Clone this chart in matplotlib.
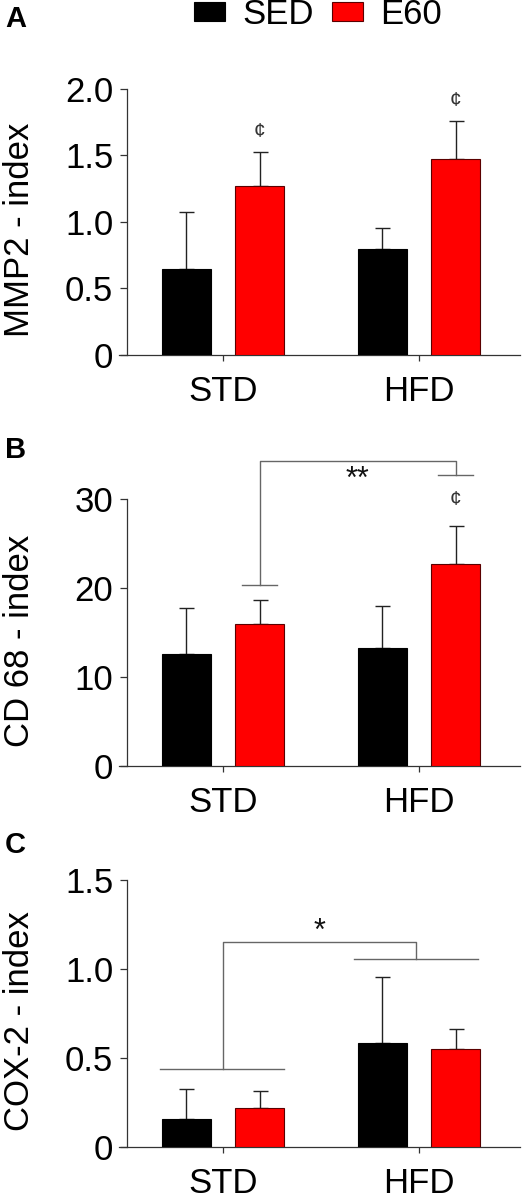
import matplotlib.pyplot as plt
from matplotlib.patches import Patch
import numpy as np

plt.rcParams['font.family'] = ['Liberation Sans', 'DejaVu Sans']

groups = ["STD", "HFD"]
series = ["SED", "E60"]
colors = {"SED": "#000000", "E60": "#ff0000"}

# panel A: MMP2
mmp2_mean = {"SED": [0.645, 0.80], "E60": [1.268, 1.47]}
mmp2_top = {"SED": [1.078, 0.958], "E60": [1.528, 1.758]}

# panel B: CD 68
cd68_mean = {"SED": [12.64, 13.24], "E60": [15.97, 22.69]}
cd68_top = {"SED": [17.7, 17.96], "E60": [18.67, 26.92]}

# panel C: COX-2
cox2_mean = {"SED": [0.159, 0.587], "E60": [0.219, 0.549]}
cox2_top = {"SED": [0.326, 0.953], "E60": [0.315, 0.664]}

fig = plt.figure(figsize=(5.32, 11.99), dpi=100)
W, H = 532, 1199

def make_ax(top_px, bottom_px):
    return fig.add_axes([119 / W, 1 - bottom_px / H, (520 - 119) / W, (bottom_px - top_px) / H])

x = np.arange(len(groups))
off = 0.187
bw = 0.25
line_c = "#333333"
br_c = "#666666"

def draw(ax, means, tops, ymax, yticks, yticklabels, ylabel):
    for i, s in enumerate(series):
        xs = x + (-off if i == 0 else off)
        edge = "#000000" if s == "SED" else "#5a0000"
        ax.bar(xs, means[s], width=bw, color=colors[s], edgecolor=edge, linewidth=0.8, zorder=3)
        err = np.array(tops[s]) - np.array(means[s])
        ax.errorbar(xs, means[s], yerr=[np.zeros(len(err)), err], fmt="none",
                    ecolor="#222222", elinewidth=1.0, capsize=5.4, capthick=1.0, zorder=2)
    for sp in ["top", "right"]:
        ax.spines[sp].set_visible(False)
    ax.spines["left"].set_position(("data", -0.49))
    for sp in ["left", "bottom"]:
        ax.spines[sp].set_color(line_c)
        ax.spines[sp].set_linewidth(0.9)
    ax.set_xlim(-0.531, 1.515)
    ax.set_ylim(0, ymax)
    ax.set_xticks(x)
    ax.set_xticklabels(groups)
    ax.set_yticks(yticks)
    ax.set_yticklabels(yticklabels)
    ax.tick_params(axis="y", length=5, width=0.9, color=line_c, pad=5, labelsize=25)
    ax.tick_params(axis="x", length=4.5, width=0.9, color=line_c, pad=10, labelsize=25)
    ax.set_ylabel(ylabel, fontsize=25)
    ax.yaxis.set_label_coords(-0.208, 0.47)

axA = make_ax(89, 355)
draw(axA, mmp2_mean, mmp2_top, 2.0, [0, 0.5, 1.0, 1.5, 2.0], ["0", "0.5", "1.0", "1.5", "2.0"], "MMP2 - index")
axA.text(off, 1.68, "¢", ha="center", va="center", fontsize=15, color="#333333")
axA.text(1 + off, 1.915, "¢", ha="center", va="center", fontsize=15, color="#333333")

axB = make_ax(499, 766)
draw(axB, cd68_mean, cd68_top, 30, [0, 10, 20, 30], ["0", "10", "20", "30"], "CD 68 - index")
axB.plot([off - 0.09, off + 0.09], [20.29, 20.29], color=br_c, lw=1, clip_on=False)
axB.plot([off, off, 1 + off, 1 + off], [20.29, 34.27, 34.27, 32.73], color=br_c, lw=1, clip_on=False)
axB.plot([1 + off - 0.088, 1 + off + 0.088], [32.73, 32.73], color=br_c, lw=1, clip_on=False)
axB.text(0.686, 32.1, "**", ha="center", va="center", fontsize=22, color="#111111", clip_on=False)
axB.text(1 + off, 29.9, "¢", ha="center", va="center", fontsize=15, color="#333333", clip_on=False)

axC = make_ax(880, 1147)
draw(axC, cox2_mean, cox2_top, 1.5, [0, 0.5, 1.0, 1.5], ["0", "0.5", "1.0", "1.5"], "COX-2 - index")
axC.plot([-0.32, 0.31], [0.439, 0.439], color=br_c, lw=1, clip_on=False)
axC.plot([0, 0, 0.985, 0.985], [0.439, 1.151, 1.151, 1.056], color=br_c, lw=1, clip_on=False)
axC.plot([0.668, 1.30], [1.056, 1.056], color=br_c, lw=1, clip_on=False)
axC.text(0.49, 1.21, "*", ha="center", va="center", fontsize=22, color="#111111")

for lab, top in [("A", 5), ("B", 436), ("C", 831)]:
    fig.text(5 / W, 1 - top / H, lab, ha="left", va="top", fontsize=21, fontweight="bold")

handles = [Patch(facecolor=colors[s], edgecolor="#000000" if s == "SED" else "#5a0000", linewidth=0.8) for s in series]
fig.legend(handles, series, loc="upper center", bbox_to_anchor=(318 / W, 1 + 2 / H), ncol=2,
           frameon=False, fontsize=25, handlelength=0.9, handleheight=0.46,
           handletextpad=0.5, columnspacing=0.5, borderpad=0, borderaxespad=0)

fig.savefig("out.png", dpi=100)
